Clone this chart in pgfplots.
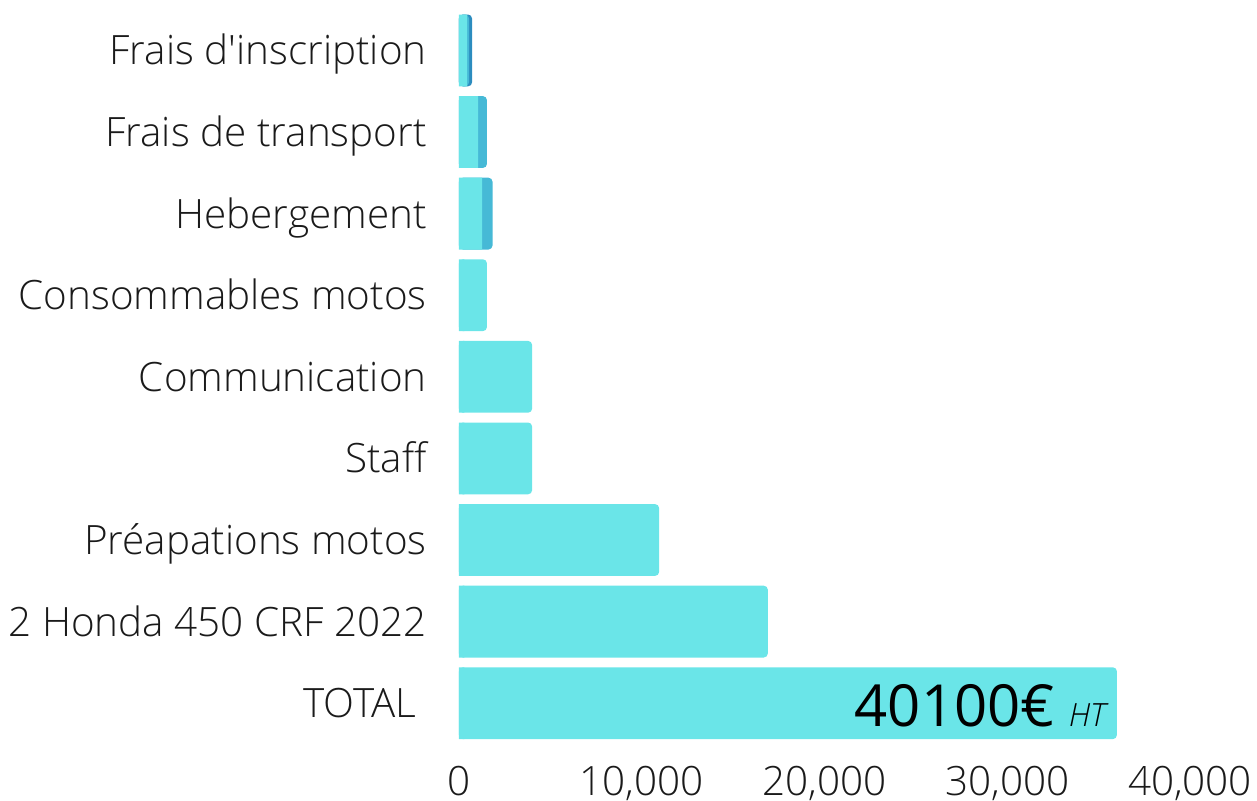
\documentclass[border=0pt]{standalone}
\usepackage{fontspec}
\usepackage{pgfplots}
\usepackage{pgfplotstable}
\pgfplotsset{compat=1.18}
\IfFontExistsTF{Open Sans Light}{\def\mainos{Open Sans Light}}{\def\mainos{Open Sans}}
\setmainfont{\mainos}[Ligatures=TeXOff]
\newfontfamily\osreg{Open Sans}
\definecolor{barlight}{HTML}{6AE5E8}
\definecolor{barmid}{HTML}{46B9D6}
\definecolor{bardark}{HTML}{2C8CBF}
\definecolor{txt}{HTML}{1A1A1A}

\pgfplotstableread{
y v
0 36000
1 16900
2 10950
3 4000
4 4000
5 1530
}\lightonly
\pgfplotstableread{
y c
0 300
1 300
2 300
3 300
4 300
5 300
}\cover
\pgfplotstableread{
y light mid
6 1260 1835
7 1040 1530
8 440 550
}\segs
\pgfplotstableread{
y dark
8 715
}\darkseg

\begin{document}
\begin{tikzpicture}
\begin{axis}[name=ax, scale only axis, width=365.5bp, height=367.2bp,
  xmin=0, xmax=40000, ymin=-0.5, ymax=8.5, clip=false,
  axis line style={draw=none}, major tick length=0pt,
  xtick={0,10000,20000,30000,40000}, scaled x ticks=false,
  ytick={0,...,8},
  yticklabels={TOTAL\hspace*{5bp},2 Honda 450 CRF 2022,Préapations motos,Staff,Communication,Consommables motos,Hebergement,Frais de transport,Frais d'inscription},
  yticklabel style={anchor=base east, inner sep=0pt, xshift=-16bp, yshift=-7.25bp, font=\fontsize{20.2bp}{20.2bp}\selectfont, text=txt},
  xticklabel style={anchor=base, inner sep=0pt, yshift=-26bp, font=\fontsize{20.2bp}{20.2bp}\selectfont, text=txt},
  /pgf/number format/.cd, 1000 sep={,}, assume math mode=true]
\addplot[xbar, bar width=0.88, bar shift=0pt, fill=barlight, draw=none, rounded corners=2bp] table[x=v,y=y]{\lightonly};
\addplot[xbar, bar width=0.88, bar shift=0pt, fill=barlight, draw=none] table[x=c,y=y]{\cover};
\addplot[xbar, bar width=0.88, bar shift=0pt, fill=bardark, draw=none, rounded corners=2bp] table[x=dark,y=y]{\darkseg};
\addplot[xbar, bar width=0.88, bar shift=0pt, fill=barmid, draw=none, rounded corners=2bp] table[x=mid,y=y]{\segs};
\addplot[xbar, bar width=0.88, bar shift=0pt, fill=barlight, draw=none] table[x=light,y=y]{\segs};
\node[anchor=base east, inner sep=0pt, text=black] at (axis cs:35400,-0.29)
  {{\osreg\fontsize{29bp}{29bp}\selectfont 40100€}\hspace{7bp}{\fontsize{16bp}{16bp}\selectfont\itshape HT}};
\end{axis}
\pgfresetboundingbox
\path ([shift={(-229.5bp,-28.5bp)}]ax.south west) rectangle ++(628.5bp,400.5bp);
\end{tikzpicture}
\end{document}
